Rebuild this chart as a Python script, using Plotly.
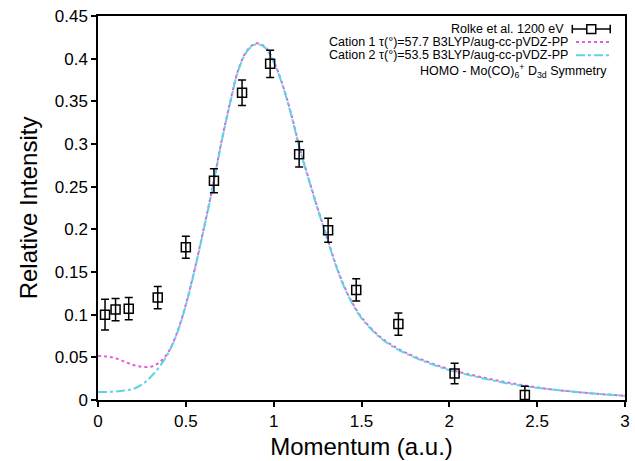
import plotly.graph_objects as go

# Measured momentum profile (Rolke et al., 1200 eV)
exp_p = [0.04, 0.10, 0.175, 0.34, 0.50, 0.66, 0.82, 0.98, 1.145, 1.31, 1.47, 1.71, 2.03, 2.43]
exp_i = [0.100, 0.106, 0.107, 0.120, 0.179, 0.257, 0.360, 0.394, 0.288, 0.199, 0.129, 0.089, 0.031, 0.006]
exp_err = [0.018, 0.013, 0.013, 0.013, 0.013, 0.014, 0.015, 0.016, 0.015, 0.014, 0.013, 0.013, 0.012, 0.010]

# Calculated profiles
calc_p = [0.0, 0.05, 0.1, 0.15, 0.2, 0.25, 0.3, 0.35, 0.4, 0.45, 0.5, 0.55, 0.6, 0.65,
          0.7, 0.75, 0.8, 0.85, 0.9, 0.95, 1.0, 1.05, 1.1, 1.15, 1.2, 1.25, 1.3, 1.35,
          1.4, 1.45, 1.5, 1.6, 1.7, 1.8, 1.9, 2.0, 2.2, 2.4, 2.6, 2.8, 3.0]
cation1 = [0.052, 0.051, 0.049, 0.045, 0.041, 0.039, 0.039, 0.044, 0.056, 0.079, 0.112, 0.153, 0.199, 0.247,
           0.300, 0.347, 0.388, 0.410, 0.418, 0.414, 0.397, 0.370, 0.335, 0.294, 0.259, 0.225, 0.193, 0.161,
           0.134, 0.113, 0.097, 0.075, 0.061, 0.051, 0.043, 0.036, 0.026, 0.018, 0.012, 0.008, 0.005]
cation2 = [0.0095, 0.0095, 0.010, 0.011, 0.013, 0.018, 0.027, 0.039, 0.055, 0.078, 0.111, 0.152, 0.198, 0.246,
           0.299, 0.346, 0.387, 0.409, 0.417, 0.413, 0.396, 0.369, 0.334, 0.293, 0.258, 0.224, 0.192, 0.160,
           0.133, 0.112, 0.096, 0.074, 0.060, 0.050, 0.042, 0.035, 0.025, 0.017, 0.012, 0.008, 0.005]

x_ticks = [0, 0.5, 1, 1.5, 2, 2.5, 3]
x_tick_text = ["0", "0.5", "1", "1.5", "2", "2.5", "3"]
y_ticks = [0, 0.05, 0.1, 0.15, 0.2, 0.25, 0.3, 0.35, 0.4, 0.45]
y_tick_text = ["0", "0.05", "0.1", "0.15", "0.2", "0.25", "0.3", "0.35", "0.4", "0.45"]

legend_rows = [
    "Rolke et al. 1200 eV",
    "Cation 1 τ(°)=57.7 B3LYP/aug-cc-pVDZ-PP",
    "Cation 2 τ(°)=53.5 B3LYP/aug-cc-pVDZ-PP",
    "HOMO - Mo(CO)<sub>6</sub><sup>+</sup> D<sub>3d</sub> Symmetry",
]

MAGENTA = "#e45fd6"
CYAN = "#5fd3e6"
FONT = "Liberation Sans, Arial, sans-serif"

fig = go.Figure()

fig.add_trace(go.Scatter(
    x=calc_p, y=cation1, mode="lines", line_shape="spline",
    line=dict(color=MAGENTA, width=2, dash="dot"), showlegend=False))
fig.add_trace(go.Scatter(
    x=calc_p, y=cation2, mode="lines", line_shape="spline",
    line=dict(color=CYAN, width=2, dash="dashdot"), showlegend=False))
fig.add_trace(go.Scatter(
    x=exp_p, y=exp_i, mode="markers",
    marker=dict(symbol="square-open", size=9, color="black", line=dict(width=1.5)),
    error_y=dict(type="data", array=exp_err, visible=True, color="black", thickness=1.5, width=4),
    showlegend=False))

# Key in the upper right corner: text right-aligned, samples to the right
row_y = [0.966, 0.932, 0.898, 0.856]
text_right = [0.888, 0.895, 0.895, 0.970]
for label, yy, xr in zip(legend_rows, row_y, text_right):
    fig.add_annotation(x=xr, y=yy, xref="paper", yref="paper", text=label,
                       showarrow=False, xanchor="right", yanchor="middle",
                       font=dict(family=FONT, size=12.5, color="black"))

sx0, sx1 = 0.900, 0.972
shapes = [
    # error-bar sample
    dict(type="line", xref="paper", yref="paper", x0=sx0, x1=sx1, y0=row_y[0], y1=row_y[0],
         line=dict(color="black", width=1.5)),
    dict(type="line", xref="paper", yref="paper", x0=sx0, x1=sx0, y0=row_y[0] - 0.011, y1=row_y[0] + 0.011,
         line=dict(color="black", width=1.5)),
    dict(type="line", xref="paper", yref="paper", x0=sx1, x1=sx1, y0=row_y[0] - 0.011, y1=row_y[0] + 0.011,
         line=dict(color="black", width=1.5)),
    dict(type="rect", xref="paper", yref="paper", x0=(sx0 + sx1) / 2 - 0.0085, x1=(sx0 + sx1) / 2 + 0.0085,
         y0=row_y[0] - 0.0115, y1=row_y[0] + 0.0115, fillcolor="white", line=dict(color="black", width=1.5)),
    # line samples
    dict(type="line", xref="paper", yref="paper", x0=0.907, x1=sx1, y0=row_y[1], y1=row_y[1],
         line=dict(color=MAGENTA, width=2, dash="dot")),
    dict(type="line", xref="paper", yref="paper", x0=0.907, x1=sx1, y0=row_y[2], y1=row_y[2],
         line=dict(color=CYAN, width=2, dash="dashdot")),
]

fig.update_layout(
    width=635, height=461,
    margin=dict(l=98, r=5, t=16, b=59),
    paper_bgcolor="white", plot_bgcolor="white",
    font=dict(family=FONT, color="black"),
    shapes=shapes,
    xaxis=dict(
        range=[0, 3], tickvals=x_ticks, ticktext=x_tick_text,
        ticks="outside", ticklen=5, tickwidth=1.5, tickcolor="black",
        showline=True, linecolor="black", linewidth=1.5, mirror=True,
        showgrid=False, zeroline=False,
        tickfont=dict(size=17, family=FONT),
        title=dict(text="Momentum (a.u.)", font=dict(size=24, family=FONT), standoff=8),
    ),
    yaxis=dict(
        range=[0, 0.45], tickvals=y_ticks, ticktext=y_tick_text,
        ticks="outside", ticklen=5, tickwidth=1.5, tickcolor="black",
        showline=True, linecolor="black", linewidth=1.5, mirror=True,
        showgrid=False, zeroline=False,
        tickfont=dict(size=17, family=FONT),
        title=dict(text="Relative Intensity", font=dict(size=24, family=FONT), standoff=10),
    ),
)

fig.write_html("out.html")
